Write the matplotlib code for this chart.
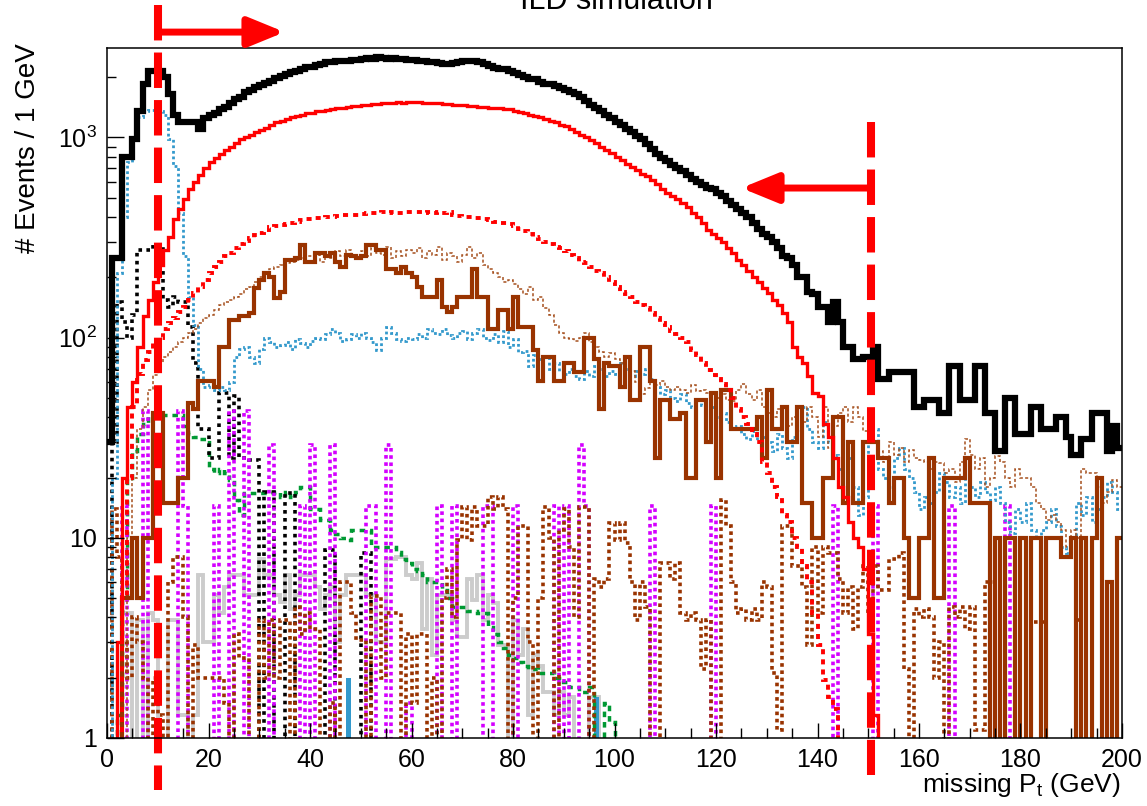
import numpy as np
import matplotlib.pyplot as plt
from matplotlib.ticker import MultipleLocator, FixedLocator, FixedFormatter, LogLocator, NullFormatter

plt.rcParams['font.family'] = ['Liberation Sans', 'DejaVu Sans']
plt.rcParams['mathtext.default'] = 'regular'

# 1 GeV bins, 0-200 GeV
edges = np.arange(0, 201, 1)

# total (black, thick)
total = [30, 250, 250, 800, 800, 980, 1360, 1840, 2140, 2150, 2150, 2000, 1640, 1300, 1190, 1190, 1190, 1190, 1100, 1250,
         1300, 1320, 1380, 1420, 1480, 1560, 1600, 1680, 1720, 1780, 1820, 1880, 1920, 1980, 2030, 2070, 2120, 2150, 2200, 2240,
         2260, 2290, 2330, 2370, 2380, 2400, 2420, 2420, 2450, 2440, 2480, 2500, 2480, 2520, 2500, 2480, 2500, 2460, 2470, 2450,
         2430, 2420, 2400, 2380, 2380, 2350, 2330, 2320, 2350, 2380, 2420, 2420, 2410, 2380, 2330, 2280, 2230, 2200, 2190, 2150,
         2100, 2050, 2000, 1960, 1950, 1900, 1860, 1840, 1800, 1760, 1720, 1680, 1650, 1600, 1520, 1450, 1400, 1350, 1300, 1250,
         1200, 1150, 1100, 1060, 1020, 980, 930, 880, 830, 790, 760, 730, 700, 680, 650, 620, 600, 580, 560, 550,
         530, 510, 480, 460, 440, 420, 400, 375, 350, 330, 320, 300, 280, 255, 250, 230, 200, 200, 170, 165,
         143, 143, 120, 150, 120, 90, 90, 78, 78, 80, 80, 90, 62, 62, 67, 67, 67, 67, 67, 45,
         45, 49, 49, 49, 42, 42, 72, 72, 49, 49, 49, 72, 72, 42, 42, 27, 27, 50, 50, 33,
         33, 33, 45, 45, 35, 35, 35, 40, 40, 32, 26, 26, 31, 31, 42, 42, 42, 27, 36, 28]

# signal (red solid)
red_solid = [0, 0, 3, 20, 45, 60, 90, 128, 155, 190, 230, 275, 320, 390, 440, 490, 550, 600, 650, 700,
             750, 790, 830, 870, 900, 940, 980, 1000, 1030, 1060, 1090, 1110, 1150, 1190, 1210, 1230, 1260, 1280, 1300, 1320,
             1330, 1350, 1360, 1370, 1380, 1400, 1410, 1420, 1430, 1440, 1450, 1460, 1470, 1470, 1480, 1480, 1490, 1500, 1490, 1500,
             1500, 1500, 1490, 1490, 1480, 1480, 1470, 1470, 1460, 1460, 1450, 1440, 1430, 1420, 1420, 1410, 1400, 1400, 1390, 1380,
             1360, 1340, 1320, 1300, 1280, 1260, 1240, 1210, 1190, 1160, 1140, 1100, 1060, 1030, 1000, 970, 940, 900, 870, 840,
             800, 770, 740, 710, 690, 660, 640, 610, 585, 555, 530, 510, 490, 470, 450, 420, 400, 375, 345, 330,
             315, 300, 280, 265, 245, 230, 215, 200, 190, 178, 167, 155, 145, 133, 120, 90, 80, 75, 64, 53,
             51, 37, 32, 25, 18, 16, 12, 10, 9, 7, 3.3, 1.3]

# red dotted
red_dot = [0, 0, 0, 5, 20, 45, 66, 77, 85, 95, 100, 110, 118, 125, 135, 143, 155, 167, 180, 195,
           210, 225, 240, 255, 265, 280, 295, 305, 315, 325, 335, 345, 355, 360, 365, 370, 375, 380, 385, 390,
           392, 395, 398, 400, 402, 405, 408, 410, 412, 410, 415, 418, 420, 418, 422, 420, 425, 420, 420, 422,
           425, 422, 420, 425, 420, 425, 420, 425, 410, 405, 400, 400, 395, 395, 390, 385, 380, 375, 375, 370,
           360, 350, 340, 330, 320, 310, 300, 295, 285, 280, 270, 260, 250, 240, 235, 225, 215, 210, 200, 190,
           180, 170, 165, 160, 150, 145, 140, 133, 125, 118, 113, 108, 104, 100, 95, 87, 82, 75, 69, 65,
           62, 59, 55, 50, 44, 40, 37, 33, 30, 24, 21, 18, 16, 13, 12, 10, 9, 7.2, 6, 4.2,
           2.9, 1.95, 1.6, 1.4]

# light blue dotted
blue_dot = [0, 20, 210, 400, 750, 980, 1270, 1350, 1370, 1370, 1350, 1300, 980, 720, 420, 255, 160, 115, 70, 57,
            58, 55, 57, 55, 60, 80, 88, 90, 80, 75, 88, 100, 95, 90, 92, 95, 88, 98, 94, 90,
            96, 100, 98, 104, 110, 105, 96, 98, 104, 100, 106, 100, 95, 87, 100, 113, 105, 98, 96, 100,
            98, 104, 100, 110, 106, 104, 110, 103, 100, 106, 108, 98, 105, 110, 100, 97, 104, 95, 108, 90,
            98, 85, 86, 72, 82, 78, 80, 70, 75, 68, 66, 70, 64, 62, 68, 64, 72, 70, 64, 68,
            66, 75, 70, 64, 68, 66, 70, 62, 57, 52, 55, 50, 48, 52, 47, 45, 49, 46, 43, 45,
            40, 42, 38, 35, 36, 33, 31, 34, 30, 32, 30, 27, 33, 28, 25, 32, 40, 45, 35, 30,
            28, 38, 30, 26, 22, 20, 25, 18, 13, 16, 30, 35, 22, 20, 18, 25, 28, 22, 20, 17,
            14, 16, 15, 17, 21, 19, 16, 18, 15, 20, 18, 16, 19, 17, 15.5, 18, 15, 12, 10.6, 14,
            12, 15, 11, 10, 11, 12, 14, 11.4, 9, 8.4, 10, 15, 13, 16, 12, 14, 16, 19, 17, 14]

# brown solid (thick)
brown_solid = [0, 0, 0, 5, 5, 10, 5, 10, 10, 42, 42, 15, 15, 15, 20, 20, 47, 44, 61, 61,
               61, 57, 90, 90, 122, 122, 128, 128, 133, 177, 195, 210, 200, 158, 170, 245, 245, 250, 290, 240,
               240, 265, 265, 255, 265, 240, 225, 260, 255, 250, 255, 290, 290, 275, 275, 220, 220, 210, 225, 210,
               200, 180, 160, 160, 160, 195, 143, 135, 143, 160, 160, 160, 220, 160, 160, 110, 110, 138, 138, 110,
               160, 113, 113, 113, 87, 61, 80, 80, 61, 61, 75, 75, 67, 67, 100, 100, 78, 44, 75, 72,
               72, 57, 80, 49, 49, 90, 90, 61, 25, 49, 49, 39, 39, 42, 20, 20, 49, 49, 30, 53,
               20, 55, 55, 35, 35, 35, 35, 35, 40, 25, 55, 35, 35, 45, 30, 30, 45, 15, 15, 10,
               10, 20, 20, 40, 40, 15, 30, 15, 15, 30, 30, 30, 25, 25, 15, 20, 20, 10, 5, 5,
               10, 10, 25, 5, 5, 20, 20, 20, 20, 25, 15, 15, 15, 15, 0, 10, 0, 10, 10, 0,
               10, 0, 10, 10, 0, 10, 10, 10, 8, 8, 10, 0, 10, 0, 10, 20, 0, 6, 0, 10]

# brown thin dashed
brown_thin = [0, 0, 0, 0, 10, 20, 35, 45, 55, 65, 75, 80, 85, 90, 95, 100, 105, 110, 118, 125,
              130, 138, 145, 150, 155, 160, 165, 175, 180, 190, 200, 210, 220, 225, 230, 235, 240, 245, 250, 255,
              255, 260, 240, 265, 250, 270, 255, 275, 260, 250, 270, 255, 280, 265, 260, 285, 250, 270, 255, 275,
              265, 280, 250, 270, 260, 285, 245, 265, 255, 240, 260, 285, 250, 265, 230, 220, 210, 200, 190, 195,
              185, 175, 165, 180, 155, 160, 140, 130, 115, 106, 100, 98, 96, 100, 106, 95, 90, 85, 80, 84,
              78, 75, 72, 68, 60, 52, 56, 60, 58, 61, 57, 55, 57, 55, 53, 58, 54, 55, 53, 52,
              50, 52, 49, 48, 55, 59, 52, 49, 55, 45, 42, 40, 44, 38, 36, 40, 34, 38, 45, 40,
              32, 45, 28, 36, 42, 45, 38, 45, 40, 34, 32, 30, 27, 24, 30, 26, 28, 24, 27.5, 25,
              24.5, 24, 22, 24, 23.7, 21, 22, 19, 24, 31, 26, 22, 25, 18, 20, 25.5, 24, 20, 18, 22,
              20, 20, 18, 15, 14, 12.3, 13, 12, 11, 9, 11, 10, 22, 21, 21, 18, 15, 17, 19.5, 18]

# black dotted
black_dot = [0, 30, 150, 120, 100, 130, 275, 275, 275, 290, 290, 155, 143, 160, 150, 150, 113, 75, 35, 35,
             25, 25, 53, 53, 25, 51, 25, 25, 24.5, 24.5, 0, 17, 17, 0, 0, 16.8, 16.8, 0, 0, 0,
             0, 0, 0, 8.7, 8.7, 0, 0, 0, 0, 0, 8.4, 8.4]

# green dashed
green_dash = [0, 0, 1.3, 5, 20, 27, 33, 37, 41, 41, 41, 41, 41, 41, 41, 36, 33, 32, 31, 31,
              22, 21, 22, 21, 19.5, 15.5, 13, 16.8, 16.8, 16.8, 16.8, 16.8, 16.8, 17, 16, 17, 16, 17, 18, 18,
              14, 14, 12.3, 12.3, 11, 10.5, 10, 9.8, 11, 11, 11, 11, 9, 9, 9, 9, 9, 8.5, 7.8, 7.5,
              7, 6.8, 6.5, 6, 6, 6, 5.5, 5, 4.5, 4.5, 4.5, 4.3, 4.3, 4.2, 4.2, 3.6, 3.3, 3, 2.8, 2.6,
              2.5, 2.4, 2.3, 2.2, 2.2, 2.1, 2.1, 2.1, 2.0, 1.9, 1.9, 1.8, 1.8, 1.7, 1.7, 1.8, 0, 0, 1.5, 1.2]

# light gray solid
gray_solid = [0, 0, 0, 4.2, 4.2, 0, 3.9, 0, 4.2, 3.9, 0, 0, 3.9, 3.9, 1.3, 1.3, 0, 1.3, 6.5, 3,
              3, 5.2, 4.2, 5.7, 6.5, 6.5, 6.5, 5.2, 5.2, 5.2, 7.8, 6.5, 6.5, 5.2, 4.8, 6.5, 4.4, 5.2, 6.5, 6.5,
              6.5, 5.7, 4.4, 5.2, 5.7, 3, 5.2, 6.5, 6.5, 6.5, 6.5, 5.2, 5.2, 3, 3, 7.8, 7.8, 8, 8, 6.5,
              6.2, 7.5, 3.5, 6.2, 2.6, 5.2, 5.2, 5.2, 3.9, 3.2, 3.2, 6.2, 4.9, 6.5, 3.9, 5.2, 4.7, 2.9, 2.9, 0,
              3.9, 2.6, 3.5, 1.3, 2.6, 2.3, 1.7, 1.7, 1.3, 1.7, 1.3, 1.6, 0, 0, 0, 1.6, 1.6]

# brown thick dotted
brown_dot = [0, 14, 8, 3, 2, 4, 3, 2, 0, 2, 1.3, 0, 6, 8, 8, 4, 0, 2.9, 2, 2,
             2, 2, 2, 1.5, 0, 3.3, 2.5, 2.5, 0, 0, 3.9, 2, 3.9, 2, 3.9, 3.9, 0, 4.5, 3.3, 4.2,
             3.5, 3.5, 0, 0, 1.5, 0, 6, 6, 4.2, 3.1, 3.1, 0, 5.1, 5.1, 2, 4.2, 4.2, 4.2, 0, 3.3,
             1.5, 3.3, 3.3, 0, 2, 0, 5, 7, 4, 9.8, 14.3, 9.8, 14.3, 11.4, 11.4, 16, 14, 16, 14, 0,
             5, 11.4, 11.4, 3, 0, 5, 14.3, 10, 0, 11, 14, 9, 4, 14.3, 14.3, 0, 6.2, 5.7, 6.2, 11.9,
             9.8, 11.9, 9.4, 6, 3.9, 6, 4.5, 0, 0, 7.5, 7.5, 6.2, 7.5, 4.2, 3.9, 4.2, 3.9, 2.2, 3.9, 0,
             0, 15.5, 11.4, 6, 4.2, 4.4, 3.9, 4.4, 3.9, 6, 5.7, 2.1, 1.1, 11.4, 11.4, 7.2, 7.2, 5.7, 2.9, 9,
             4.2, 9, 8.4, 8.4, 6.2, 4.2, 5.7, 3.5, 5.7, 7.2, 4.2, 7.2, 5.5, 5.5, 7.8, 7.8, 8.4, 2.2, 0, 4.4,
             4, 4.4, 4, 2, 3, 0, 4.5, 4, 4.5, 3.5, 4.5, 1.1, 1.1, 6, 6, 0, 0, 0, 0, 0,
             0, 0, 3.8, 3.8, 3.8, 0, 0, 0, 0, 0, 0, 3.9, 3.9, 0, 0, 0, 0, 3.9, 0, 0]

# magenta dotted: only a few non-empty bins
mag_bins = [3, 7, 14, 15, 21, 24, 27, 32, 38, 40, 44, 51, 52, 55, 59, 65, 68, 74, 75, 80,
            88, 90, 93, 94, 107, 119, 143, 151, 166, 177]
mag_vals = [14.5, 43, 43, 14.5, 14.5, 43, 43, 29, 14.5, 29, 29, 14.5, 14.5, 29, 1.5, 14.5, 14.5, 14.5, 14.5, 14.5,
            14.5, 14.5, 29, 14.5, 14.5, 14.5, 14.5, 14.5, 14.5, 14.5]

# small filled blue histogram
fill_bins = [47, 96]
fill_vals = [2.0, 1.6]

# cut values (GeV)
cuts = [10, 150.5]


def full(vals):
    h = np.zeros(200)
    h[:len(vals)] = vals
    h[h <= 0] = 0.5  # empty bins drop below the axis
    return h


magenta = np.zeros(200)
magenta[mag_bins] = mag_vals
fill_h = np.zeros(200)
fill_h[fill_bins] = fill_vals

fig = plt.figure(figsize=(11.47, 8.06), dpi=100)
ax = fig.add_axes([0.0933, 0.0844, 0.8849, 0.8561])
ax.set_yscale('log')

ax.stairs(full(gray_solid), edges, baseline=None, color='#cccccc', lw=2.8)
ax.stairs(np.maximum(fill_h, 0.5), edges, baseline=0.5, fill=True, color='#3399cc')
ax.stairs(full(green_dash), edges, baseline=None, color='#009933', lw=2.5, linestyle=(0, (1.6, 1.4)))
ax.stairs(full(black_dot), edges, baseline=None, color='black', lw=2.6, linestyle=(0, (1, 1.2)))
ax.stairs(full(magenta), edges, baseline=None, color='#d400ff', lw=2.6, linestyle=(0, (1, 1)))
ax.stairs(full(brown_dot), edges, baseline=None, color='#993300', lw=2.6, linestyle=(0, (1, 1)))
ax.stairs(full(blue_dot), edges, baseline=None, color='#3399cc', lw=2.0, linestyle=(0, (1, 1)))
ax.stairs(full(brown_thin), edges, baseline=None, color='#a5501e', lw=1.1, linestyle=(0, (2, 1.5)))
ax.stairs(full(brown_solid), edges, baseline=None, color='#993300', lw=3.0)
ax.stairs(full(red_dot), edges, baseline=None, color='#ff0000', lw=2.8, linestyle=(0, (1.3, 1.3)))
ax.stairs(full(red_solid), edges, baseline=None, color='#ff0000', lw=2.4)
ax.stairs(full(total), edges, baseline=None, color='black', lw=4.5)

ax.set_xlim(0, 200)
ax.set_ylim(1, 2800)

ax.xaxis.set_major_locator(MultipleLocator(20))
ax.xaxis.set_minor_locator(MultipleLocator(5))
ax.yaxis.set_major_locator(FixedLocator([1, 10, 100, 1000]))
ax.yaxis.set_major_formatter(FixedFormatter(['1', '10', '$10^{2}$', '$10^{3}$']))
ax.yaxis.set_minor_locator(LogLocator(base=10, subs=np.arange(2, 10)))
ax.yaxis.set_minor_formatter(NullFormatter())
ax.tick_params(which='both', direction='in', labelsize=18, width=1.0)
ax.tick_params(axis='x', which='major', length=11, pad=7)
ax.tick_params(axis='x', which='minor', length=7)
ax.tick_params(axis='y', which='major', length=12, pad=7)
ax.tick_params(axis='y', which='minor', length=6.5)
for s in ax.spines.values():
    s.set_linewidth(1.1)

fig.text(0.0244, 0.8158, '# Events / 1 GeV', rotation=90, ha='center', va='center', fontsize=20)
fig.text(0.9765, 0.0175, 'missing P$_{t}$ (GeV)', ha='right', va='baseline', fontsize=19)
fig.text(0.537, 0.9888, 'ILD simulation', ha='center', va='baseline', fontsize=22)

# cut lines and arrows
trans = ax.get_xaxis_transform()
ax.plot([cuts[0], cuts[0]], [1.062, -0.075], transform=trans, clip_on=False,
        color='#ff0000', lw=5.8, dashes=(4.4, 1.5))
ax.plot([cuts[1], cuts[1]], [0.893, -0.054], transform=trans, clip_on=False,
        color='#ff0000', lw=5.8, dashes=(4.4, 1.5))
arrow = dict(arrowstyle='-|>,head_length=1.1,head_width=0.45', lw=5, color='#ff0000',
             shrinkA=0, shrinkB=0, mutation_scale=20)
ax.annotate('', xy=(35, 1.023), xytext=(cuts[0] + 0.4, 1.023), xycoords=trans, textcoords=trans,
            arrowprops=arrow, annotation_clip=False)
ax.annotate('', xy=(125, 0.797), xytext=(cuts[1] - 0.2, 0.797), xycoords=trans, textcoords=trans,
            arrowprops=arrow, annotation_clip=False)

plt.savefig('out.png', dpi=100)
